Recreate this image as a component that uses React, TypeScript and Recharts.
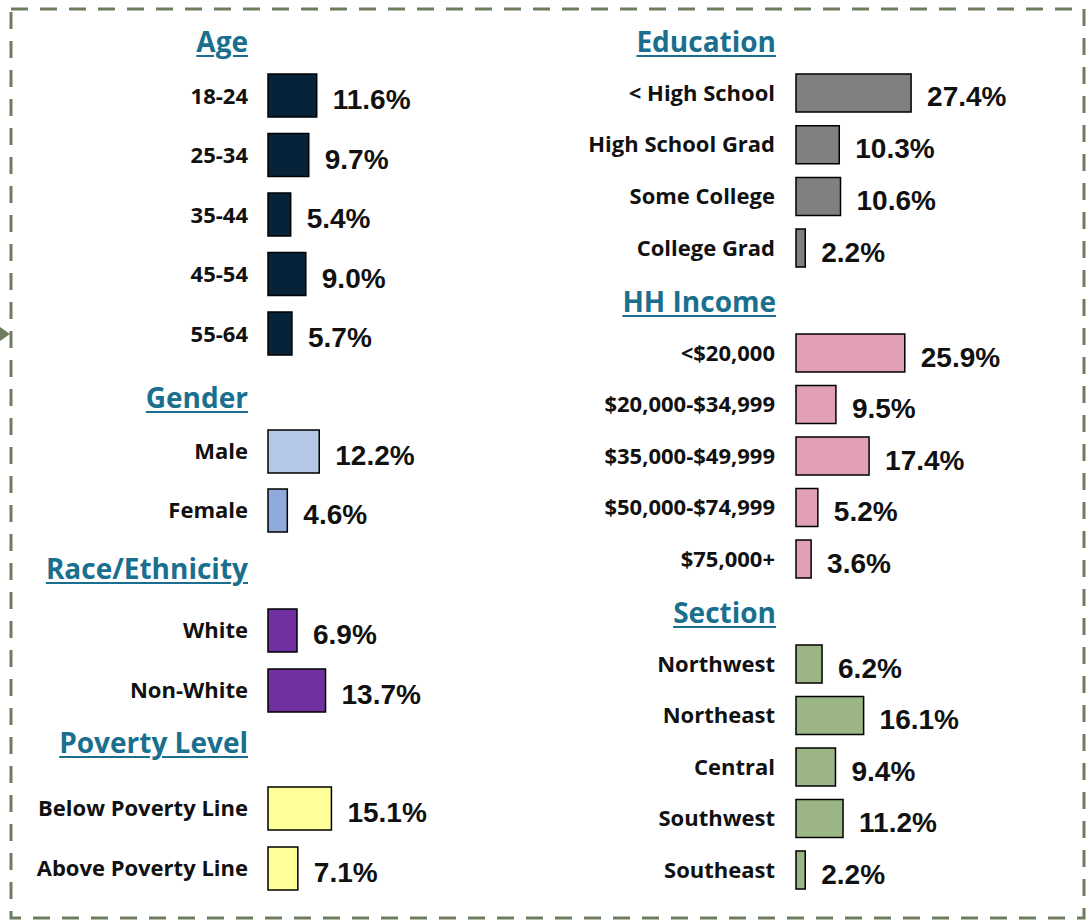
import React from "react";
import { BarChart, Bar, XAxis, YAxis, Cell, LabelList } from "recharts";

// Category labels and percentages per panel
const ageLabels = ["18-24", "25-34", "35-44", "45-54", "55-64"];
const ageValues = [11.6, 9.7, 5.4, 9.0, 5.7];

const genderLabels = ["Male", "Female"];
const genderValues = [12.2, 4.6];

const raceLabels = ["White", "Non-White"];
const raceValues = [6.9, 13.7];

const povertyLabels = ["Below Poverty Line", "Above Poverty Line"];
const povertyValues = [15.1, 7.1];

const educationLabels = ["< High School", "High School Grad", "Some College", "College Grad"];
const educationValues = [27.4, 10.3, 10.6, 2.2];

const incomeLabels = ["<$20,000", "$20,000-$34,999", "$35,000-$49,999", "$50,000-$74,999", "$75,000+"];
const incomeValues = [25.9, 9.5, 17.4, 5.2, 3.6];

const sectionLabels = ["Northwest", "Northeast", "Central", "Southwest", "Southeast"];
const sectionValues = [6.2, 16.1, 9.4, 11.2, 2.2];

const TITLE_COLOR = "#1A6F8E";
const LABEL_FONT = "'Open Sans', 'Noto Sans', sans-serif";
const VALUE_FONT = "'Liberation Sans', Arial, sans-serif";

const renderValue = (props: any) => {
  const x = Number(props.x);
  const y = Number(props.y);
  const w = Number(props.width);
  const h = Number(props.height);
  return (
    <text
      x={x + w + 16}
      y={y + h / 2 + 4}
      dominantBaseline="central"
      fontFamily={VALUE_FONT}
      fontWeight={700}
      fontSize={28}
      fill="#111"
    >
      {Number(props.value).toFixed(1)}%
    </text>
  );
};

interface PanelProps {
  title: string;
  labels: string[];
  values: number[];
  colors: string[];
  left: number;
  top: number;
  titleTop: number;
  pitch: number;
  barSize: number;
  tickMargin: number;
}

const Panel = ({ title, labels, values, colors, left, top, titleTop, pitch, barSize, tickMargin }: PanelProps) => {
  const rows = labels.map((name, i) => ({ name, value: values[i] }));
  return (
    <>
      <div
        style={{
          position: "absolute",
          left,
          top: titleTop,
          width: 248,
          textAlign: "right",
          fontFamily: LABEL_FONT,
          fontWeight: 700,
          fontSize: 28,
          lineHeight: "28px",
          color: TITLE_COLOR,
          textDecoration: "underline",
          textDecorationThickness: 2,
          textUnderlineOffset: 3,
        }}
      >
        {title}
      </div>
      <div style={{ position: "absolute", left, top }}>
        <BarChart
          width={520}
          height={labels.length * pitch}
          data={rows}
          layout="vertical"
          margin={{ top: 0, right: 0, bottom: 0, left: 0 }}
        >
          <XAxis type="number" hide domain={[0, 60]} />
          <YAxis
            type="category"
            dataKey="name"
            width={268}
            axisLine={false}
            tickLine={false}
            tickSize={0}
            tickMargin={tickMargin}
            interval={0}
            tick={{ fontFamily: LABEL_FONT, fontWeight: 700, fontSize: 22, fill: "#111" }}
          />
          <Bar
            dataKey="value"
            barSize={barSize}
            stroke="#000"
            strokeWidth={1.5}
            isAnimationActive={false}
          >
            {rows.map((_, i) => (
              <Cell key={i} fill={colors[i % colors.length]} />
            ))}
            <LabelList dataKey="value" content={renderValue} />
          </Bar>
        </BarChart>
      </div>
    </>
  );
};

const App = () => {
  return (
    <div style={{ position: "relative", width: 1088, height: 922, background: "#fff", overflow: "hidden" }}>
      <style>{`body { margin: 0; }`}</style>
      {/* dashed frame + little arrow on the left edge */}
      <svg width={1088} height={922} style={{ position: "absolute", left: 0, top: 0 }}>
        <rect
          x={11}
          y={9}
          width={1073}
          height={909}
          fill="none"
          stroke="#6E7D5E"
          strokeWidth={3}
          strokeDasharray="17 12"
        />
        <polygon points="0,327 10,334 0,341" fill="#6E7D5E" />
      </svg>

      {/* left column */}
      <Panel title="Age" labels={ageLabels} values={ageValues} colors={["#06233A"]}
        left={0} top={66} titleTop={27} pitch={59.5} barSize={43} tickMargin={20} />
      <Panel title="Gender" labels={genderLabels} values={genderValues} colors={["#B4C7E7", "#8EA9DB"]}
        left={0} top={422} titleTop={383} pitch={59} barSize={43} tickMargin={20} />
      <Panel title="Race/Ethnicity" labels={raceLabels} values={raceValues} colors={["#7030A0"]}
        left={0} top={600} titleTop={554} pitch={60} barSize={43} tickMargin={20} />
      <Panel title="Poverty Level" labels={povertyLabels} values={povertyValues} colors={["#FFFF99"]}
        left={0} top={778} titleTop={728} pitch={60} barSize={43} tickMargin={20} />

      {/* right column */}
      <Panel title="Education" labels={educationLabels} values={educationValues} colors={["#808080"]}
        left={528} top={67} titleTop={27} pitch={51.7} barSize={38} tickMargin={21} />
      <Panel title="HH Income" labels={incomeLabels} values={incomeValues} colors={["#E2A0B7"]}
        left={528} top={327} titleTop={287} pitch={51.5} barSize={38} tickMargin={21} />
      <Panel title="Section" labels={sectionLabels} values={sectionValues} colors={["#9BB585"]}
        left={528} top={638} titleTop={598} pitch={51.5} barSize={38} tickMargin={21} />
    </div>
  );
};

export default App;
